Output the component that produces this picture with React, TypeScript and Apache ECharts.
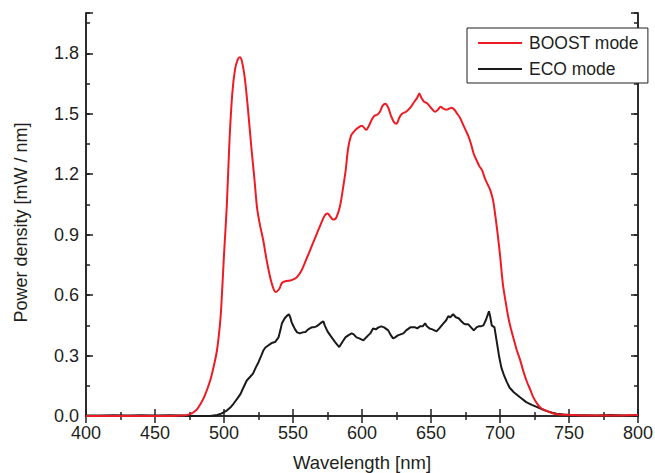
import React, { useEffect, useRef } from "react";
import * as echarts from "echarts";

const boostWavelengths = [
  400, 420, 440, 460, 470, 475, 480, 483, 486, 490, 493, 495, 497, 498, 500, 502, 504, 506, 508, 510,
  511.5, 513, 515, 517, 520, 522, 524, 526, 528.5, 531, 534.5, 537.5, 540, 542, 545, 548, 551, 553,
  556, 558, 561, 564, 567, 570, 573, 575, 577, 579, 581, 584, 586, 588, 590, 592, 594, 597, 600, 603,
  605, 607, 609, 611, 613, 615, 617, 619, 621, 623, 625, 627, 629, 632, 635, 637, 640, 641.5, 643, 645,
  647.5, 650, 653, 655, 657, 659, 661, 663, 665, 667, 669, 671, 673, 675, 677, 679, 681, 683, 685, 687,
  689, 691, 693, 695, 696.5, 698, 700, 702, 704, 706, 708, 710, 712, 714.5, 717, 719.5, 722, 724, 727,
  729, 732, 736, 740, 746, 760, 780, 800,
];
const boostValues = [
  0, 0, 0, 0, 0.002, 0.008, 0.03, 0.06, 0.1, 0.176, 0.26, 0.33, 0.45, 0.54, 0.8, 1.04, 1.37, 1.6, 1.72, 1.77,
  1.78, 1.76, 1.68, 1.55, 1.32, 1.18, 1.03, 0.95, 0.87, 0.77, 0.66, 0.615, 0.63, 0.66, 0.67, 0.672, 0.68, 0.69,
  0.72, 0.75, 0.8, 0.85, 0.9, 0.95, 0.995, 1.005, 0.99, 0.975, 0.98, 1.04, 1.12, 1.21, 1.33, 1.39, 1.41, 1.43, 1.44, 1.42,
  1.44, 1.47, 1.49, 1.495, 1.51, 1.54, 1.55, 1.53, 1.49, 1.46, 1.45, 1.48, 1.5, 1.51, 1.53, 1.55, 1.58, 1.6, 1.58, 1.56,
  1.55, 1.53, 1.51, 1.52, 1.535, 1.525, 1.52, 1.525, 1.53, 1.52, 1.5, 1.48, 1.45, 1.42, 1.39, 1.35, 1.3, 1.27, 1.24, 1.22,
  1.18, 1.15, 1.12, 1.07, 1.0, 0.92, 0.8, 0.66, 0.57, 0.49, 0.43, 0.38, 0.33, 0.28, 0.22, 0.17, 0.13, 0.095, 0.06,
  0.044, 0.03, 0.019, 0.01, 0.006, 0.003, 0.002, 0.005,
];

const ecoWavelengths = [
  400, 410, 420, 430, 440, 450, 460, 470, 480, 490, 495, 498, 502, 505, 507, 510, 512, 514, 516.5, 519,
  521, 523, 525, 527, 528.5, 530, 532, 534.5, 537, 539.5, 541, 542, 544, 546, 547, 548, 549, 550, 551.5, 553,
  555, 557, 559, 561, 563.5, 565, 567, 569, 571, 572, 573, 575, 577, 580.5, 583.5, 586, 588, 590, 592.5, 594,
  596, 598, 601, 603, 604.5, 606, 608, 610, 612, 614, 616, 619, 621, 622.5, 624, 626, 628, 630, 632, 635,
  637, 638.5, 640, 642, 644, 645.7, 647, 649, 651, 654, 656, 659, 661, 662.5, 664, 666, 668, 670, 672, 673.5,
  675, 677, 679, 681, 683, 684.5, 686, 688, 690, 691, 692, 693, 694, 696, 697.5, 699.5, 701, 703, 705, 707,
  710, 714.5, 719, 723, 727, 731, 734, 738, 741, 746, 751, 760, 770, 780, 790, 800,
];
const ecoValues = [
  0.003, 0.002, 0.004, 0.003, 0.004, 0.003, 0.004, 0.002, 0, 0, 0.005, 0.012, 0.027, 0.045, 0.062, 0.09, 0.11, 0.14, 0.176, 0.195,
  0.21, 0.24, 0.267, 0.3, 0.325, 0.34, 0.35, 0.362, 0.367, 0.39, 0.43, 0.46, 0.485, 0.5, 0.505, 0.49, 0.466, 0.45, 0.43, 0.415,
  0.41, 0.415, 0.417, 0.43, 0.44, 0.44, 0.445, 0.455, 0.466, 0.47, 0.45, 0.42, 0.4, 0.367, 0.342, 0.37, 0.39, 0.4, 0.41, 0.405,
  0.39, 0.385, 0.375, 0.39, 0.4, 0.41, 0.434, 0.43, 0.44, 0.445, 0.44, 0.425, 0.4, 0.385, 0.39, 0.4, 0.405, 0.41, 0.425, 0.44,
  0.44, 0.44, 0.435, 0.445, 0.445, 0.46, 0.445, 0.434, 0.43, 0.42, 0.435, 0.46, 0.475, 0.495, 0.49, 0.505, 0.49, 0.485, 0.47, 0.46,
  0.455, 0.455, 0.44, 0.425, 0.44, 0.445, 0.445, 0.45, 0.48, 0.5, 0.52, 0.49, 0.45, 0.44, 0.375, 0.29, 0.24, 0.2, 0.168, 0.14,
  0.118, 0.093, 0.069, 0.055, 0.044, 0.032, 0.024, 0.016, 0.011, 0.007, 0.005, 0.004, 0.003, 0.005, 0.003, 0.004,
];

const seriesNames = ["BOOST mode", "ECO mode"];
const xTitle = "Wavelength [nm]";
const yTitle = "Power density [mW / nm]";

const FONT = "'Liberation Sans', Arial, sans-serif";
const TEXT = "#231f20";
const AXIS = "#231f20";

function zip(xs: number[], ys: number[]) {
  return xs.map((x, i) => [x, ys[i]]);
}

export default function App() {
  const ref = useRef<HTMLDivElement>(null);
  useEffect(() => {
    if (!ref.current) return;
    const chart = echarts.init(ref.current, undefined, { renderer: "svg" });
    const axisLine = { show: true, lineStyle: { color: AXIS, width: 1.5 } };
    const xBase = {
      type: "value" as const,
      min: 400,
      max: 800,
      interval: 50,
      axisLine,
      axisTick: { show: true, inside: true, length: 7, lineStyle: { color: AXIS, width: 1.5 } },
      minorTick: { show: true, splitNumber: 2, length: 4, lineStyle: { color: AXIS, width: 1.5 } },
      splitLine: { show: false },
      minorSplitLine: { show: false },
    };
    const yBase = {
      type: "value" as const,
      min: 0,
      max: 2.0,
      axisLine,
      splitLine: { show: false },
    };
    const isMajor = (v: number) => Math.abs(v / 0.3 - Math.round(v / 0.3)) < 1e-6;
    chart.setOption({
      animation: false,
      grid: {
        left: 86,
        top: 13,
        right: 17,
        bottom: 57,
        containLabel: false,
        outerBoundsMode: "none",
      },
      legend: {
        data: seriesNames,
        orient: "vertical",
        left: 467,
        top: 28,
        padding: [5, 9, 4, 11],
        itemGap: 6,
        icon: "rect",
        itemWidth: 44,
        itemHeight: 2,
        backgroundColor: "#ffffff",
        borderColor: AXIS,
        borderWidth: 1,
        borderRadius: 0,
        textStyle: { fontFamily: FONT, fontSize: 17.5, color: TEXT, lineHeight: 20, padding: [0, 0, 0, 2] },
      },
      xAxis: [
        {
          ...xBase,
          position: "bottom",
          axisLabel: { fontFamily: FONT, fontSize: 18, color: TEXT, margin: 8 },
          name: xTitle,
          nameLocation: "middle",
          nameGap: 37,
          nameTextStyle: { fontFamily: FONT, fontSize: 18.5, color: TEXT },
        },
        { ...xBase, position: "top", axisLabel: { show: false } },
      ],
      yAxis: [
        {
          ...yBase,
          position: "left",
          interval: 0.15,
          axisTick: { show: true, inside: true, length: 4, lineStyle: { color: AXIS, width: 1.5 } },
          axisLabel: {
            fontFamily: FONT,
            fontSize: 18,
            color: TEXT,
            margin: 7,
            formatter: (v: number) => (isMajor(v) ? v.toFixed(1) : ""),
          },
          name: yTitle,
          nameLocation: "middle",
          nameGap: 56,
          nameTextStyle: { fontFamily: FONT, fontSize: 18, color: TEXT, padding: [0, 16, 0, 0] },
        },
        {
          ...yBase,
          position: "left",
          interval: 0.3,
          axisTick: { show: true, inside: true, length: 7, lineStyle: { color: AXIS, width: 1.5 } },
          axisLabel: { show: false },
        },
        {
          ...yBase,
          position: "right",
          interval: 0.15,
          axisTick: { show: true, inside: true, length: 4, lineStyle: { color: AXIS, width: 1.5 } },
          axisLabel: { show: false },
        },
        {
          ...yBase,
          position: "right",
          interval: 0.3,
          axisTick: { show: true, inside: true, length: 7, lineStyle: { color: AXIS, width: 1.5 } },
          axisLabel: { show: false },
        },
      ],
      series: [
        {
          name: seriesNames[1],
          type: "line",
          xAxisIndex: 0,
          yAxisIndex: 0,
          data: zip(ecoWavelengths, ecoValues),
          showSymbol: false,
          symbol: "none",
          color: "#1a1a1a",
          lineStyle: { color: "#1a1a1a", width: 2 },
        },
        {
          name: seriesNames[0],
          type: "line",
          xAxisIndex: 0,
          yAxisIndex: 0,
          data: zip(boostWavelengths, boostValues),
          showSymbol: false,
          symbol: "none",
          smooth: 0.3,
          color: "#ed1c24",
          lineStyle: { color: "#ed1c24", width: 2 },
        },
      ],
    });
    return () => chart.dispose();
  }, []);
  return (
    <div
      ref={ref}
      style={{ position: "absolute", left: 0, top: 0, width: 655, height: 473 }}
    />
  );
}
